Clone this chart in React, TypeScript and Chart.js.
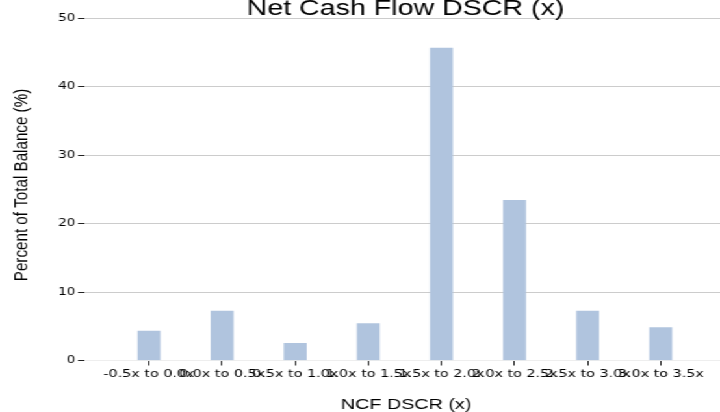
import React, { useEffect, useRef } from "react";
import { Chart, registerables } from "chart.js";

Chart.register(...registerables);

const chartTitle = "Net Cash Flow DSCR (x)";
const xAxisTitle = "NCF DSCR (x)";
const yAxisTitle = "Percent of Total Balance (%)";
const categories = [
  "-0.5x to 0.0x",
  "0.0x to 0.5x",
  "0.5x to 1.0x",
  "1.0x to 1.5x",
  "1.5x to 2.0x",
  "2.0x to 2.5x",
  "2.5x to 3.0x",
  "3.0x to 3.5x",
];
const balancePct = [4.3, 7.2, 2.5, 5.4, 45.6, 23.4, 7.2, 4.8];
const yTicks = [0, 10, 20, 30, 40, 50];

const CW = 554;
const CH = 412;
const SX = 720 / CW;

const titlePlugin = {
  id: "customTitles",
  afterDraw(chart: any) {
    const ctx = chart.ctx;
    ctx.save();
    ctx.fillStyle = "#000000";
    ctx.textAlign = "center";
    ctx.textBaseline = "alphabetic";
    ctx.font = '22px "Liberation Sans", Arial, sans-serif';
    ctx.fillText(chartTitle, 312, 15);
    ctx.font = '15.2px "Liberation Sans", Arial, sans-serif';
    ctx.fillText(xAxisTitle, 312.5, 409);
    ctx.translate(20.5, 185);
    ctx.rotate(-Math.PI / 2);
    ctx.fillText(yAxisTitle, 0, 0);
    ctx.restore();
  },
};

export default function App() {
  const ref = useRef<HTMLCanvasElement>(null);
  useEffect(() => {
    if (!ref.current) return;
    const chart = new Chart(ref.current, {
      type: "bar",
      data: {
        datasets: [
          {
            data: balancePct.map((v, i) => ({ x: i, y: v })),
            backgroundColor: "#b0c4de",
            borderWidth: 0,
            barThickness: 17,
          } as any,
        ],
      },
      options: {
        animation: false,
        responsive: false,
        devicePixelRatio: 1,
        layout: { padding: { top: 18, right: 0, left: 0, bottom: 0 } },
        plugins: { legend: { display: false }, tooltip: { enabled: false }, title: { display: false } },
        scales: {
          x: {
            type: "linear",
            offset: false,
            min: -0.875,
            max: 7.81,
            afterFit(s: any) {
              s.height = CH - 360.5;
            },
            afterBuildTicks(s: any) {
              s.ticks = categories.map((_, i) => ({ value: i }));
            },
            border: { display: false },
            grid: {
              display: true,
              offset: false,
              drawOnChartArea: false,
              drawTicks: true,
              tickLength: 5,
              tickColor: "#222222",
              color: "#222222",
            },
            ticks: {
              autoSkip: false,
              maxRotation: 0,
              minRotation: 0,
              padding: 2,
              color: "#000000",
              font: { family: '"DejaVu Sans", sans-serif', size: 11 },
              callback: (v: any) => categories[v] ?? "",
            },
          },
          y: {
            min: 0,
            max: 50,
            afterFit(s: any) {
              s.width = 65.4;
            },
            afterBuildTicks(s: any) {
              s.ticks = yTicks.map((v) => ({ value: v }));
            },
            border: { display: false },
            grid: {
              color: (c: any) => (c.tick && c.tick.value === 0 ? "#eeeeee" : "#cccccc"),
              lineWidth: 1,
              drawTicks: true,
              tickLength: 5.4,
              tickColor: "#222222",
            },
            ticks: {
              padding: 2,
              color: "#000000",
              font: { family: '"DejaVu Sans", sans-serif', size: 10.5 },
            },
          },
        },
      },
      plugins: [titlePlugin],
    } as any);
    return () => chart.destroy();
  }, []);
  return (
    <div
      style={{
        position: "fixed",
        left: 0,
        top: 0,
        width: CW,
        height: CH,
        transform: `scale(${SX}, 1)`,
        transformOrigin: "0 0",
        background: "#ffffff",
      }}
    >
      <canvas ref={ref} width={CW} height={CH} style={{ width: CW, height: CH, display: "block" }} />
    </div>
  );
}
